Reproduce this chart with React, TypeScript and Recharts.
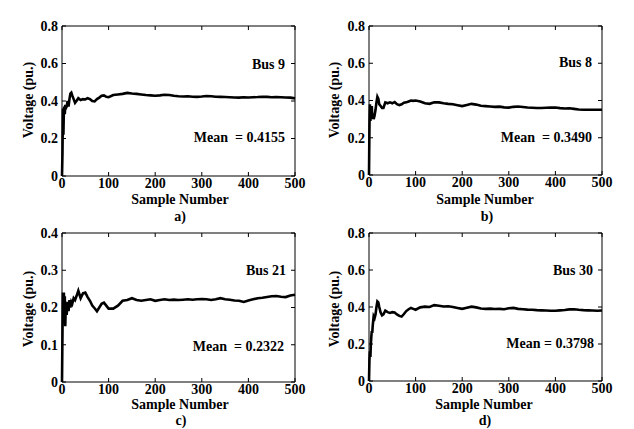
import { LineChart, Line, XAxis, YAxis, ReferenceArea } from "recharts";

const sampleNo = [
  0, 1, 2, 3, 4, 5, 6, 7, 8, 10, 12, 14, 16, 18, 20, 22, 25, 28, 31, 35,
  40, 45, 50, 55, 60, 65, 70, 75, 80, 85, 90, 95, 100,
  110, 120, 130, 140, 150, 160, 170, 180, 190, 200,
  210, 220, 230, 240, 250, 260, 270, 280, 290, 300,
  310, 320, 330, 340, 350, 360, 370, 380, 390, 400,
  410, 420, 430, 440, 450, 460, 470, 480, 490, 500,
];

const bus9 = [
  0, 0.12, 0.36, 0.22, 0.35, 0.37, 0.33, 0.38, 0.36, 0.37, 0.4, 0.37, 0.41, 0.44, 0.445, 0.43, 0.41, 0.39, 0.4, 0.415,
  0.405, 0.41, 0.408, 0.415, 0.41, 0.4, 0.398, 0.41, 0.418, 0.428, 0.43, 0.422, 0.42,
  0.432, 0.435, 0.438, 0.443, 0.44, 0.438, 0.435, 0.432, 0.43, 0.428,
  0.43, 0.433, 0.432, 0.428, 0.425, 0.424, 0.425, 0.423, 0.422, 0.424,
  0.427, 0.425, 0.423, 0.422, 0.421, 0.42, 0.419, 0.418, 0.42, 0.419,
  0.42, 0.421, 0.423, 0.422, 0.42, 0.421, 0.42, 0.419, 0.418, 0.414,
];

const bus8 = [
  0, 0.27, 0.38, 0.29, 0.36, 0.3, 0.37, 0.31, 0.33, 0.3, 0.32, 0.35, 0.39, 0.42, 0.41, 0.38, 0.37, 0.36, 0.36, 0.39,
  0.385, 0.39, 0.385, 0.392, 0.38, 0.375, 0.38, 0.388, 0.39, 0.395, 0.4, 0.398, 0.4,
  0.395, 0.385, 0.382, 0.39, 0.39, 0.385, 0.382, 0.38, 0.375, 0.37,
  0.376, 0.382, 0.378, 0.372, 0.37, 0.368, 0.366, 0.367, 0.363, 0.362,
  0.366, 0.368, 0.365, 0.362, 0.361, 0.36, 0.36, 0.361, 0.362, 0.362,
  0.359, 0.357, 0.358, 0.355, 0.352, 0.35, 0.35, 0.35, 0.35, 0.35,
];

const bus21 = [
  0, 0.13, 0.24, 0.17, 0.24, 0.19, 0.23, 0.15, 0.2, 0.18, 0.215, 0.19, 0.22, 0.2, 0.215, 0.21, 0.225, 0.22, 0.23, 0.245,
  0.225, 0.238, 0.24, 0.228, 0.218, 0.205, 0.198, 0.19, 0.2, 0.21, 0.213, 0.205, 0.197,
  0.197, 0.205, 0.218, 0.22, 0.225, 0.22, 0.218, 0.22, 0.222, 0.218,
  0.22, 0.222, 0.22, 0.221, 0.22, 0.221, 0.222, 0.221, 0.222, 0.223,
  0.222, 0.22, 0.222, 0.225, 0.222, 0.221, 0.219, 0.218, 0.215, 0.219,
  0.222, 0.225, 0.226, 0.228, 0.23, 0.231, 0.229, 0.228, 0.232, 0.234,
];

const bus30 = [
  0, 0.12, 0.16, 0.13, 0.2, 0.24, 0.27, 0.26, 0.3, 0.35, 0.34, 0.36, 0.4, 0.43, 0.425, 0.4, 0.37, 0.355, 0.36, 0.38,
  0.372, 0.368, 0.372, 0.37, 0.36, 0.352, 0.348, 0.362, 0.378, 0.388, 0.395, 0.39, 0.385,
  0.398, 0.402, 0.4, 0.41, 0.407, 0.403, 0.404, 0.4, 0.395, 0.39,
  0.396, 0.402, 0.398, 0.392, 0.39, 0.391, 0.389, 0.39, 0.388, 0.393,
  0.395, 0.39, 0.388, 0.386, 0.385, 0.383, 0.382, 0.381, 0.38, 0.38,
  0.382, 0.384, 0.387, 0.388, 0.385, 0.383, 0.382, 0.381, 0.38, 0.381,
];

const xTicks = [0, 100, 200, 300, 400, 500];
const yTicksWide = [0, 0.2, 0.4, 0.6, 0.8];
const yTicksNarrow = [0, 0.1, 0.2, 0.3, 0.4];

const FONT = "'Liberation Serif', 'DejaVu Serif', serif";
const Y_AXIS_W = 30;
const X_AXIS_H = 20;
const IN_TICK = 4;

const YTick = ({ x, y, payload, plotW }: any) => {
  const ax = x + 4;
  return (
    <g>
      <line x1={ax} x2={ax + IN_TICK} y1={y} y2={y} stroke="#000" />
      <line x1={ax + plotW - IN_TICK} x2={ax + plotW} y1={y} y2={y} stroke="#000" />
      <text x={x} y={y} dy="0.35em" textAnchor="end" style={{ fontFamily: FONT, fontWeight: 700, fontSize: 14 }} fill="#000">
        {payload.value}
      </text>
    </g>
  );
};

const XTick = ({ x, y, payload, plotH }: any) => {
  const ay = y - 2;
  return (
    <g>
      <line x1={x} x2={x} y1={ay} y2={ay - IN_TICK} stroke="#000" />
      <line x1={x} x2={x} y1={ay - plotH} y2={ay - plotH + IN_TICK} stroke="#000" />
      <text x={x} y={y} dy="0.72em" textAnchor="middle" style={{ fontFamily: FONT, fontWeight: 700, fontSize: 14 }} fill="#000">
        {payload.value}
      </text>
    </g>
  );
};

const textStyle: React.CSSProperties = {
  position: "absolute",
  fontFamily: FONT,
  fontWeight: 700,
  fontSize: 14,
  color: "#000",
  whiteSpace: "pre",
  lineHeight: 1,
};

interface PanelProps {
  left: number;
  top: number;
  width: number;
  height: number;
  plot: { left: number; top: number; right: number; bottom: number };
  values: number[];
  yMax: number;
  yTicks: number[];
  bus: string;
  busAt: [number, number];
  mean: string;
  meanAt: [number, number];
  xLabelAt: [number, number];
  caption: string;
  captionAt: [number, number];
  yLabelAt: [number, number];
}

function Panel(p: PanelProps) {
  const data = sampleNo.map((s, i) => ({ sample: s, v: p.values[i] }));
  const plotW = p.plot.right - p.plot.left;
  const plotH = p.plot.bottom - p.plot.top;
  const margin = {
    top: p.plot.top,
    left: p.plot.left - Y_AXIS_W,
    right: p.width - p.plot.right,
    bottom: p.height - p.plot.bottom - X_AXIS_H,
  };
  return (
    <div style={{ position: "absolute", left: p.left, top: p.top, width: p.width, height: p.height }}>
      <LineChart width={p.width} height={p.height} data={data} margin={margin}>
        <XAxis
          dataKey="sample"
          type="number"
          domain={[0, 500]}
          ticks={xTicks}
          height={X_AXIS_H}
          axisLine={false}
          tickLine={false}
          tickSize={0}
          tickMargin={2}
          interval={0}
          tick={(t: any) => <XTick {...t} plotH={plotH} />}
        />
        <YAxis
          type="number"
          domain={[0, p.yMax]}
          ticks={p.yTicks}
          width={Y_AXIS_W}
          axisLine={false}
          tickLine={false}
          tickSize={0}
          tickMargin={4}
          interval={0}
          tick={(t: any) => <YTick {...t} plotW={plotW} />}
        />
        <ReferenceArea x1={0} x2={500} y1={0} y2={p.yMax} fill="none" stroke="#000" strokeWidth={1} />
        <Line
          type="linear"
          dataKey="v"
          stroke="#000"
          strokeWidth={2.6}
          dot={false}
          isAnimationActive={false}
        />
      </LineChart>
      <div style={{ ...textStyle, right: p.width - p.busAt[0], top: p.busAt[1], transform: "translateY(-50%)" }}>{p.bus}</div>
      <div style={{ ...textStyle, right: p.width - p.meanAt[0], top: p.meanAt[1], transform: "translateY(-50%)" }}>{p.mean}</div>
      <div style={{ ...textStyle, left: p.xLabelAt[0], top: p.xLabelAt[1], transform: "translate(-50%,-50%)" }}>Sample Number</div>
      <div style={{ ...textStyle, left: p.captionAt[0], top: p.captionAt[1], transform: "translate(-50%,-50%)" }}>{p.caption}</div>
      <div
        style={{ ...textStyle, left: p.yLabelAt[0], top: p.yLabelAt[1], transform: "translate(-50%,-50%) rotate(-90deg)" }}
      >
        Voltage (pu.)
      </div>
    </div>
  );
}

export default function App() {
  return (
    <div style={{ position: "absolute", left: 0, top: 0, width: 634, height: 429, background: "#fff" }}>
      <Panel
        left={0}
        top={0}
        width={317}
        height={215}
        plot={{ left: 62, top: 26, right: 295, bottom: 176 }}
        values={bus9}
        yMax={0.8}
        yTicks={yTicksWide}
        bus="Bus 9"
        busAt={[285, 65]}
        mean="Mean  = 0.4155"
        meanAt={[285, 138]}
        xLabelAt={[180, 200]}
        caption="a)"
        captionAt={[180, 217]}
        yLabelAt={[29, 100]}
      />
      <Panel
        left={317}
        top={0}
        width={317}
        height={215}
        plot={{ left: 52, top: 26, right: 285, bottom: 175 }}
        values={bus8}
        yMax={0.8}
        yTicks={yTicksWide}
        bus="Bus 8"
        busAt={[275, 63]}
        mean="Mean  = 0.3490"
        meanAt={[275, 138]}
        xLabelAt={[168, 200]}
        caption="b)"
        captionAt={[170, 217]}
        yLabelAt={[18, 100]}
      />
      <Panel
        left={0}
        top={215}
        width={317}
        height={214}
        plot={{ left: 62, top: 18, right: 295, bottom: 167 }}
        values={bus21}
        yMax={0.4}
        yTicks={yTicksNarrow}
        bus="Bus 21"
        busAt={[286, 56]}
        mean="Mean  = 0.2322"
        meanAt={[284, 132]}
        xLabelAt={[180, 190]}
        caption="c)"
        captionAt={[181, 206]}
        yLabelAt={[29, 94]}
      />
      <Panel
        left={317}
        top={215}
        width={317}
        height={214}
        plot={{ left: 52, top: 18, right: 285, bottom: 166 }}
        values={bus30}
        yMax={0.8}
        yTicks={yTicksWide}
        bus="Bus 30"
        busAt={[276, 56]}
        mean="Mean = 0.3798"
        meanAt={[277, 129]}
        xLabelAt={[167, 190]}
        caption="d)"
        captionAt={[168, 206]}
        yLabelAt={[18, 94]}
      />
    </div>
  );
}
